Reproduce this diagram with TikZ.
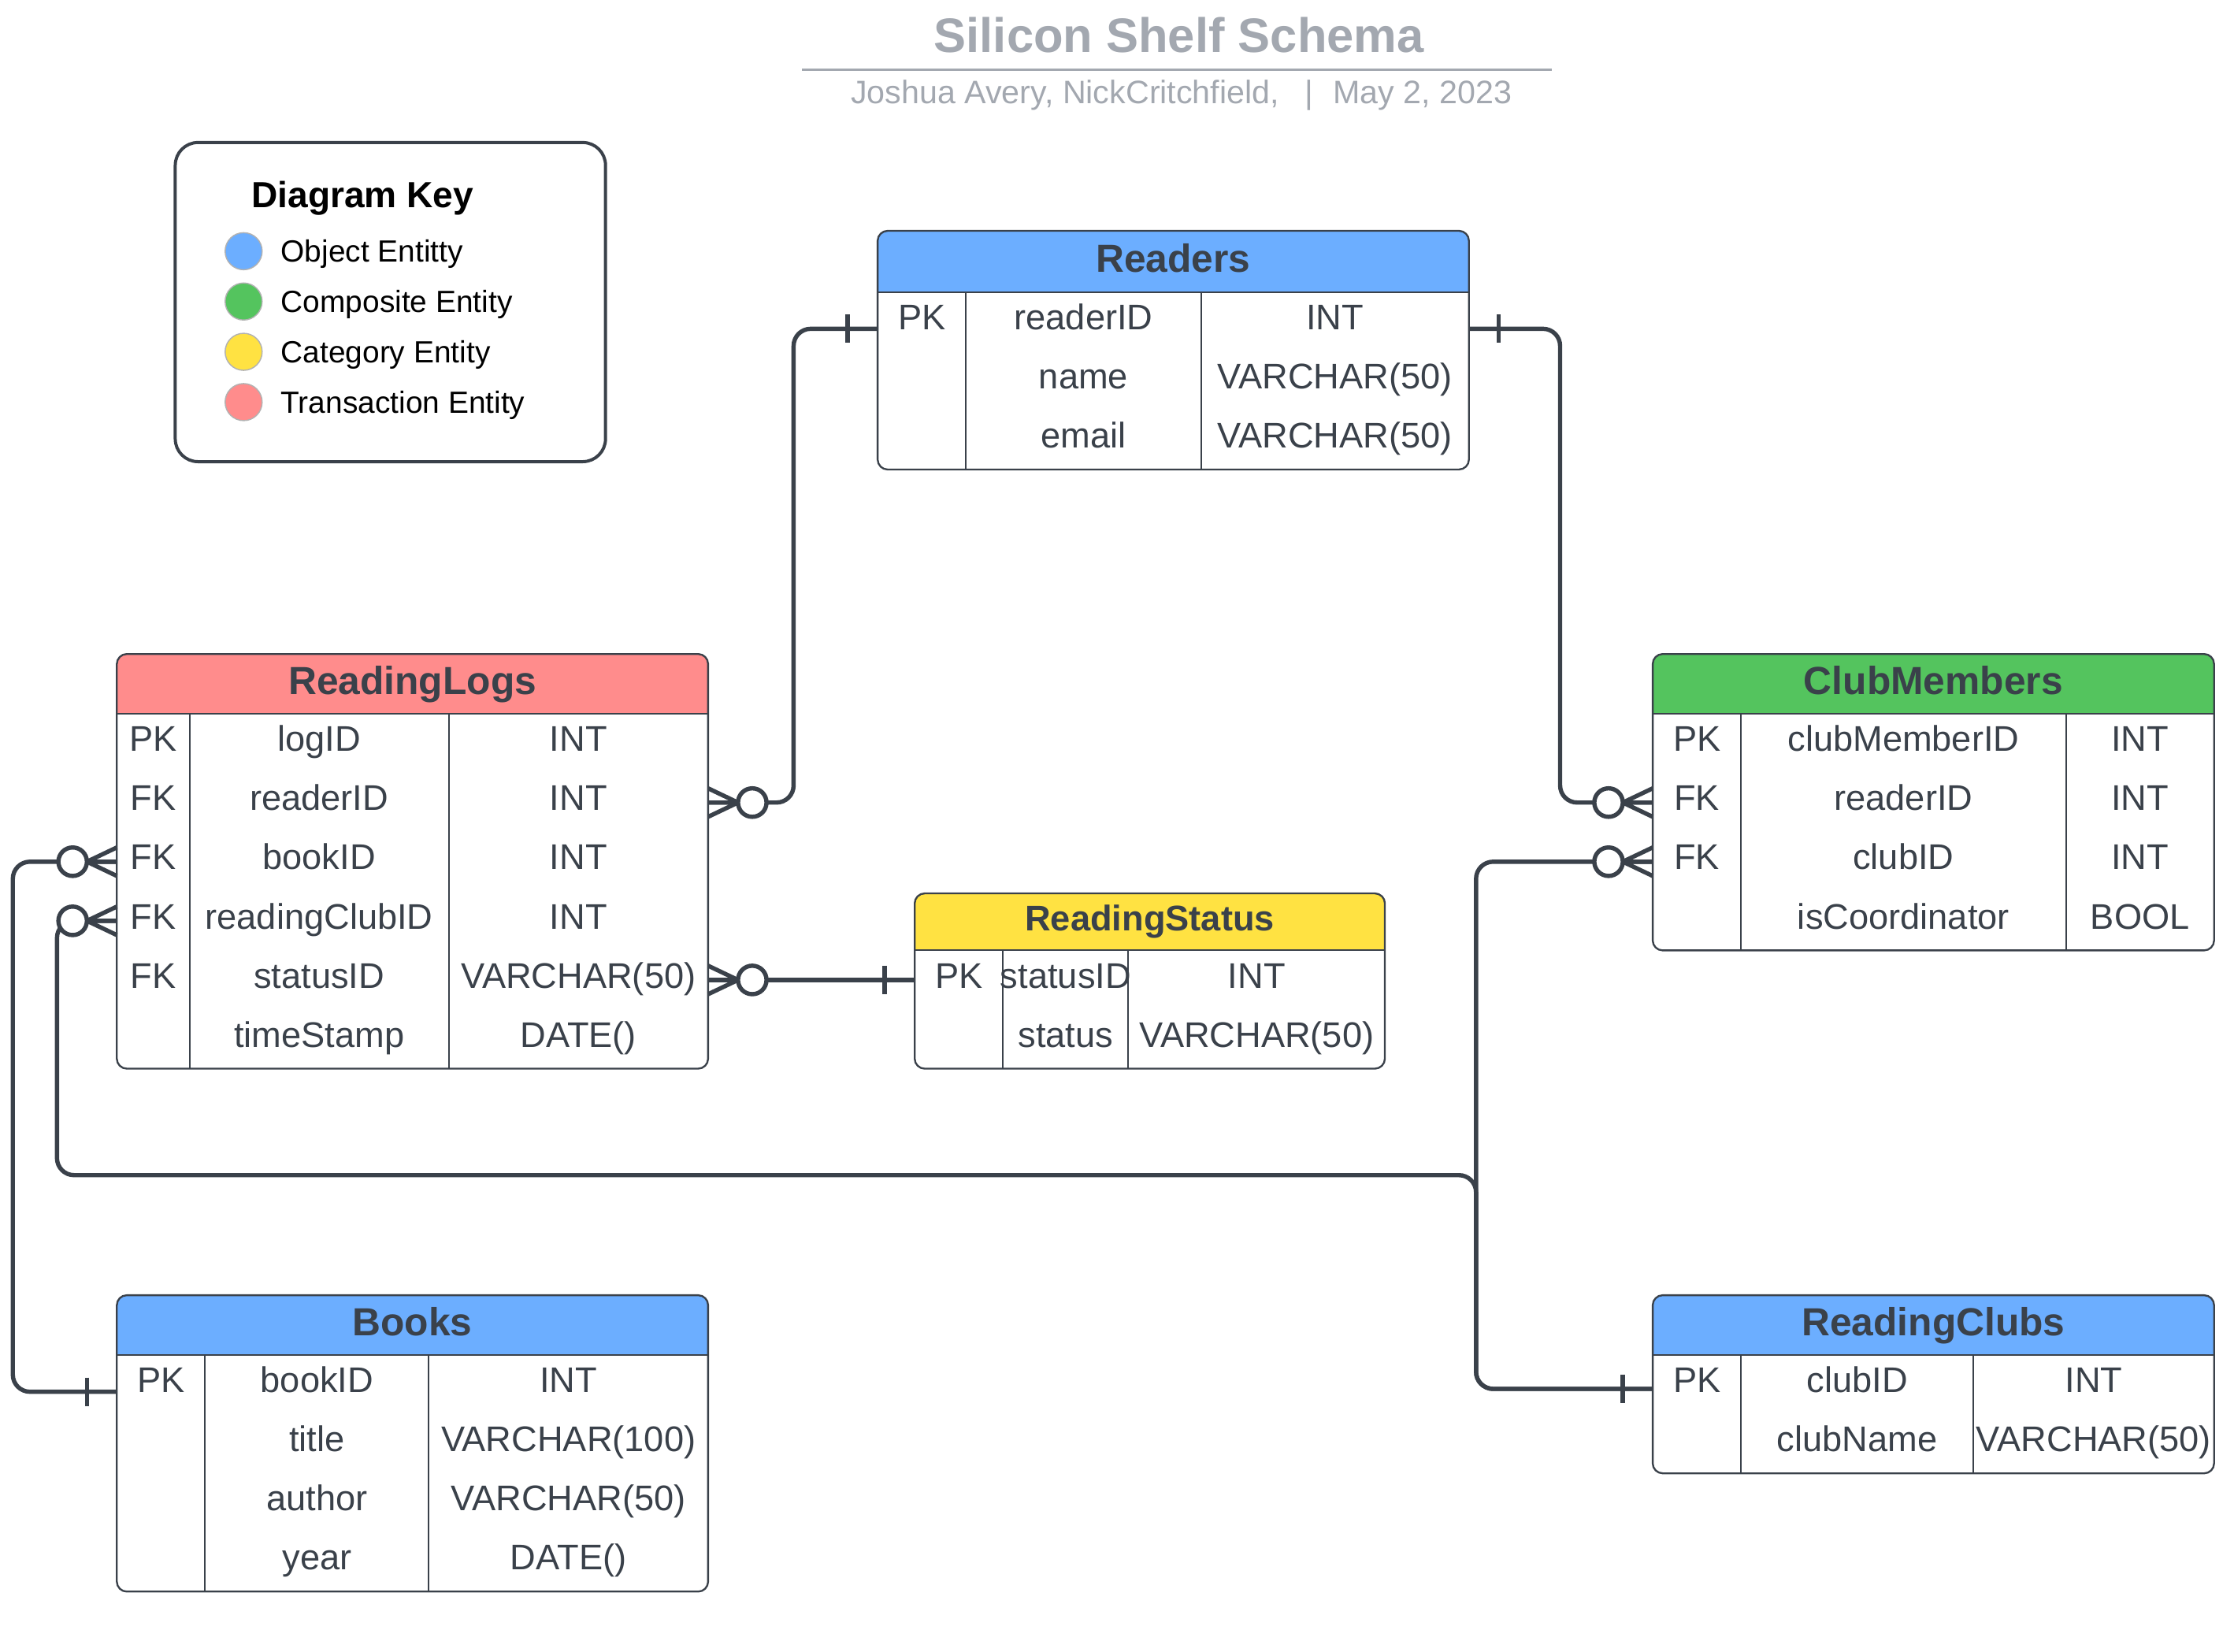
\documentclass[tikz,border=0pt]{standalone}
\usepackage{fontspec}
\setmainfont{Liberation Sans}

\definecolor{ink}{RGB}{58,65,74}
\definecolor{titlegray}{RGB}{163,168,176}
\definecolor{objblue}{RGB}{108,174,255}
\definecolor{compgreen}{RGB}{84,196,94}
\definecolor{catyellow}{RGB}{255,226,66}
\definecolor{transpink}{RGB}{255,140,140}

\tikzset{
  conn/.style={ink, line width=3pt, rounded corners=12pt},
  tblframe/.style={ink, line width=1.3pt, rounded corners=7pt},
  tabline/.style={ink, line width=1.1pt},
  hdr/.style={rounded corners=7pt, inner sep=0pt, outer sep=0pt, anchor=north west, text=ink,
    font=\bfseries\fontsize{27.5}{33}\selectfont, text height=14.8pt, text depth=0pt},
  fieldrow/.style={inner sep=0pt, outer sep=0pt, minimum height=41.5pt, anchor=west},
  cell/.style={inner sep=0pt, yshift=-4pt, text=ink, font=\fontsize{25}{30}\selectfont, text height=0.72em, text depth=0pt},
  keybox/.style={draw=ink, line width=2.2pt, rounded corners=16pt},
  keydot/.style={circle, minimum size=26pt, inner sep=0pt, draw=black!30, line width=0.8pt},
  keytext/.style={anchor=west, inner sep=0pt, yshift=-4pt, font=\fontsize{21.5}{26}\selectfont, text height=0.72em, text depth=0pt},
  keytitle/.style={inner sep=0pt, yshift=-4pt, font=\bfseries\fontsize{25.5}{30}\selectfont, text height=0.72em, text depth=0pt},
  titletext/.style={inner sep=0pt, yshift=-8pt, text=titlegray, font=\bfseries\fontsize{34}{40}\selectfont, text height=0.72em, text depth=0pt},
  subtext/.style={inner sep=0pt, yshift=-4pt, text=titlegray, font=\fontsize{22.8}{27}\selectfont, text height=0.72em, text depth=0pt},
  zeromany/.pic={
    \draw[ink, line width=3pt] (0,-10) -- (21,0) -- (0,10) (0,0) -- (21,0);
    \draw[ink, line width=3pt, fill=white] (31,0) circle[radius=10pt];
  },
  onebar/.pic={
    \draw[ink, line width=3pt] (21,-10) -- (21,10);
  },
}

\begin{document}
\begin{tikzpicture}[x=1pt,y=-1pt]
\useasboundingbox (0,0) rectangle (1568,1159.4);

% title
\node[titletext] (title) at (827.5,25) {Silicon Shelf Schema};
\draw[titlegray, line width=2pt] (563,49) -- (1089,49);
\node[subtext, anchor=west] (byline) at (597,65) {Joshua Avery, NickCritchfield,\hspace{18pt}|\hspace{14pt}May 2, 2023};

% key
\draw[keybox] (123,100) rectangle (425,324);
\node[keytitle] (keyhead) at (254.5,138) {Diagram Key};
\foreach \c/\t [count=\i] in {objblue/Object Entitty, compgreen/Composite Entity, catyellow/Category Entity, transpink/Transaction Entity} {
    \node[keydot, fill=\c] (dot-\i) at (171,{141+35.3*\i}) {};
    \node[keytext] at (197,{141+35.3*\i}) {\t};
}

% Readers
\fill[objblue] (616,190) rectangle (1031,205);
\node[hdr, fill=objblue, minimum width=415pt, minimum height=43pt] (readers) at (616,162) {Readers};
\draw[tabline] (616,205) -- (1031,205) (678,205) -- (678,329.5) (843,205) -- (843,329.5);
\draw[tblframe] (616,162) rectangle (1031,329.5);
\foreach \k/\f/\t [count=\i] in {PK/readerID/INT, /name/VARCHAR(50), /email/VARCHAR(50)} {
    \node[fieldrow, minimum width=415pt] (rd-\i) at (616,{205+41.5*\i-20.75}) {};
    \node[cell] at (647,{205+41.5*\i-22.75}) {\k};
    \node[cell] at (760.5,{205+41.5*\i-22.75}) {\f};
    \node[cell] at (937,{205+41.5*\i-22.75}) {\t};
}

% ReadingLogs
\fill[transpink] (82,490) rectangle (497,501);
\node[hdr, fill=transpink, minimum width=415pt, minimum height=42pt] (logs) at (82,459) {ReadingLogs};
\draw[tabline] (82,501) -- (497,501) (133,501) -- (133,750) (315,501) -- (315,750);
\draw[tblframe] (82,459) rectangle (497,750);
\foreach \k/\f/\t [count=\i] in {PK/logID/INT, FK/readerID/INT, FK/bookID/INT, FK/readingClubID/INT, FK/statusID/VARCHAR(50), /timeStamp/DATE()} {
    \node[fieldrow, minimum width=415pt] (rl-\i) at (82,{501+41.5*\i-20.75}) {};
    \node[cell] at (107.5,{501+41.5*\i-22.75}) {\k};
    \node[cell] at (224,{501+41.5*\i-22.75}) {\f};
    \node[cell] at (406,{501+41.5*\i-22.75}) {\t};
}

% ReadingStatus
\fill[catyellow] (642,655) rectangle (972,667);
\node[hdr, fill=catyellow, minimum width=330pt, minimum height=40pt, font=\bfseries\fontsize{25}{30}\selectfont, text height=12pt] (status) at (642,627) {ReadingStatus};
\draw[tabline] (642,667) -- (972,667) (704,667) -- (704,750) (792,667) -- (792,750);
\draw[tblframe] (642,627) rectangle (972,750);
\foreach \k/\f/\t [count=\i] in {PK/statusID/INT, /status/VARCHAR(50)} {
    \node[fieldrow, minimum width=330pt] (rs-\i) at (642,{667+41.5*\i-20.75}) {};
    \node[cell] at (673,{667+41.5*\i-22.75}) {\k};
    \node[cell] at (748,{667+41.5*\i-22.75}) {\f};
    \node[cell] at (882,{667+41.5*\i-22.75}) {\t};
}

% ClubMembers
\fill[compgreen] (1160,490) rectangle (1554,501);
\node[hdr, fill=compgreen, minimum width=394pt, minimum height=42pt] (members) at (1160,459) {ClubMembers};
\draw[tabline] (1160,501) -- (1554,501) (1222,501) -- (1222,667) (1450,501) -- (1450,667);
\draw[tblframe] (1160,459) rectangle (1554,667);
\foreach \k/\f/\t [count=\i] in {PK/clubMemberID/INT, FK/readerID/INT, FK/clubID/INT, /isCoordinator/BOOL} {
    \node[fieldrow, minimum width=394pt] (cm-\i) at (1160,{501+41.5*\i-20.75}) {};
    \node[cell] at (1191,{501+41.5*\i-22.75}) {\k};
    \node[cell] at (1336,{501+41.5*\i-22.75}) {\f};
    \node[cell] at (1502,{501+41.5*\i-22.75}) {\t};
}

% Books
\fill[objblue] (82,940) rectangle (497,951);
\node[hdr, fill=objblue, minimum width=415pt, minimum height=42pt] (books) at (82,909) {Books};
\draw[tabline] (82,951) -- (497,951) (144,951) -- (144,1117) (301,951) -- (301,1117);
\draw[tblframe] (82,909) rectangle (497,1117);
\foreach \k/\f/\t [count=\i] in {PK/bookID/INT, /title/VARCHAR(100), /author/VARCHAR(50), /year/DATE()} {
    \node[fieldrow, minimum width=415pt] (bk-\i) at (82,{951+41.5*\i-20.75}) {};
    \node[cell] at (113,{951+41.5*\i-22.75}) {\k};
    \node[cell] at (222.5,{951+41.5*\i-22.75}) {\f};
    \node[cell] at (399,{951+41.5*\i-22.75}) {\t};
}

% ReadingClubs
\fill[objblue] (1160,940) rectangle (1554,951);
\node[hdr, fill=objblue, minimum width=394pt, minimum height=42pt] (clubs) at (1160,909) {ReadingClubs};
\draw[tabline] (1160,951) -- (1554,951) (1222,951) -- (1222,1034) (1385,951) -- (1385,1034);
\draw[tblframe] (1160,909) rectangle (1554,1034);
\foreach \k/\f/\t [count=\i] in {PK/clubID/INT, /clubName/VARCHAR(50)} {
    \node[fieldrow, minimum width=394pt] (rc-\i) at (1160,{951+41.5*\i-20.75}) {};
    \node[cell] at (1191,{951+41.5*\i-22.75}) {\k};
    \node[cell] at (1303.5,{951+41.5*\i-22.75}) {\f};
    \node[cell] at (1469.5,{951+41.5*\i-22.75}) {\t};
}

% relationships
\draw[conn] ([yshift=-5pt]rd-1.west) -- ++(-59,0) |- (rl-2.east);
\draw[conn] ([yshift=-5pt]rd-1.east) -- ++(64,0) |- (cm-2.west);
\draw[conn] (rs-1.west) -- (rl-5.east);
\draw[conn] ([yshift=-5pt]bk-1.west) -- ++(-73,0) |- (rl-3.west);
\draw[conn] ([yshift=-3pt]rc-1.west) -- ++(-124,0) |- (cm-3.west);
\draw[conn] ([yshift=-3pt]rc-1.west) -- ++(-124,0) -- ++(0,-150) -- ++(-996,0) |- (rl-4.west);

\pic at (rl-2.east) {zeromany};
\pic[xscale=-1] at (cm-2.west) {zeromany};
\pic at (rl-5.east) {zeromany};
\pic[xscale=-1] at (rl-3.west) {zeromany};
\pic[xscale=-1] at (cm-3.west) {zeromany};
\pic[xscale=-1] at (rl-4.west) {zeromany};
\pic[xscale=-1] at ([yshift=-5pt]rd-1.west) {onebar};
\pic at ([yshift=-5pt]rd-1.east) {onebar};
\pic[xscale=-1] at (rs-1.west) {onebar};
\pic[xscale=-1] at ([yshift=-5pt]bk-1.west) {onebar};
\pic[xscale=-1] at ([yshift=-3pt]rc-1.west) {onebar};
\end{tikzpicture}
\end{document}
